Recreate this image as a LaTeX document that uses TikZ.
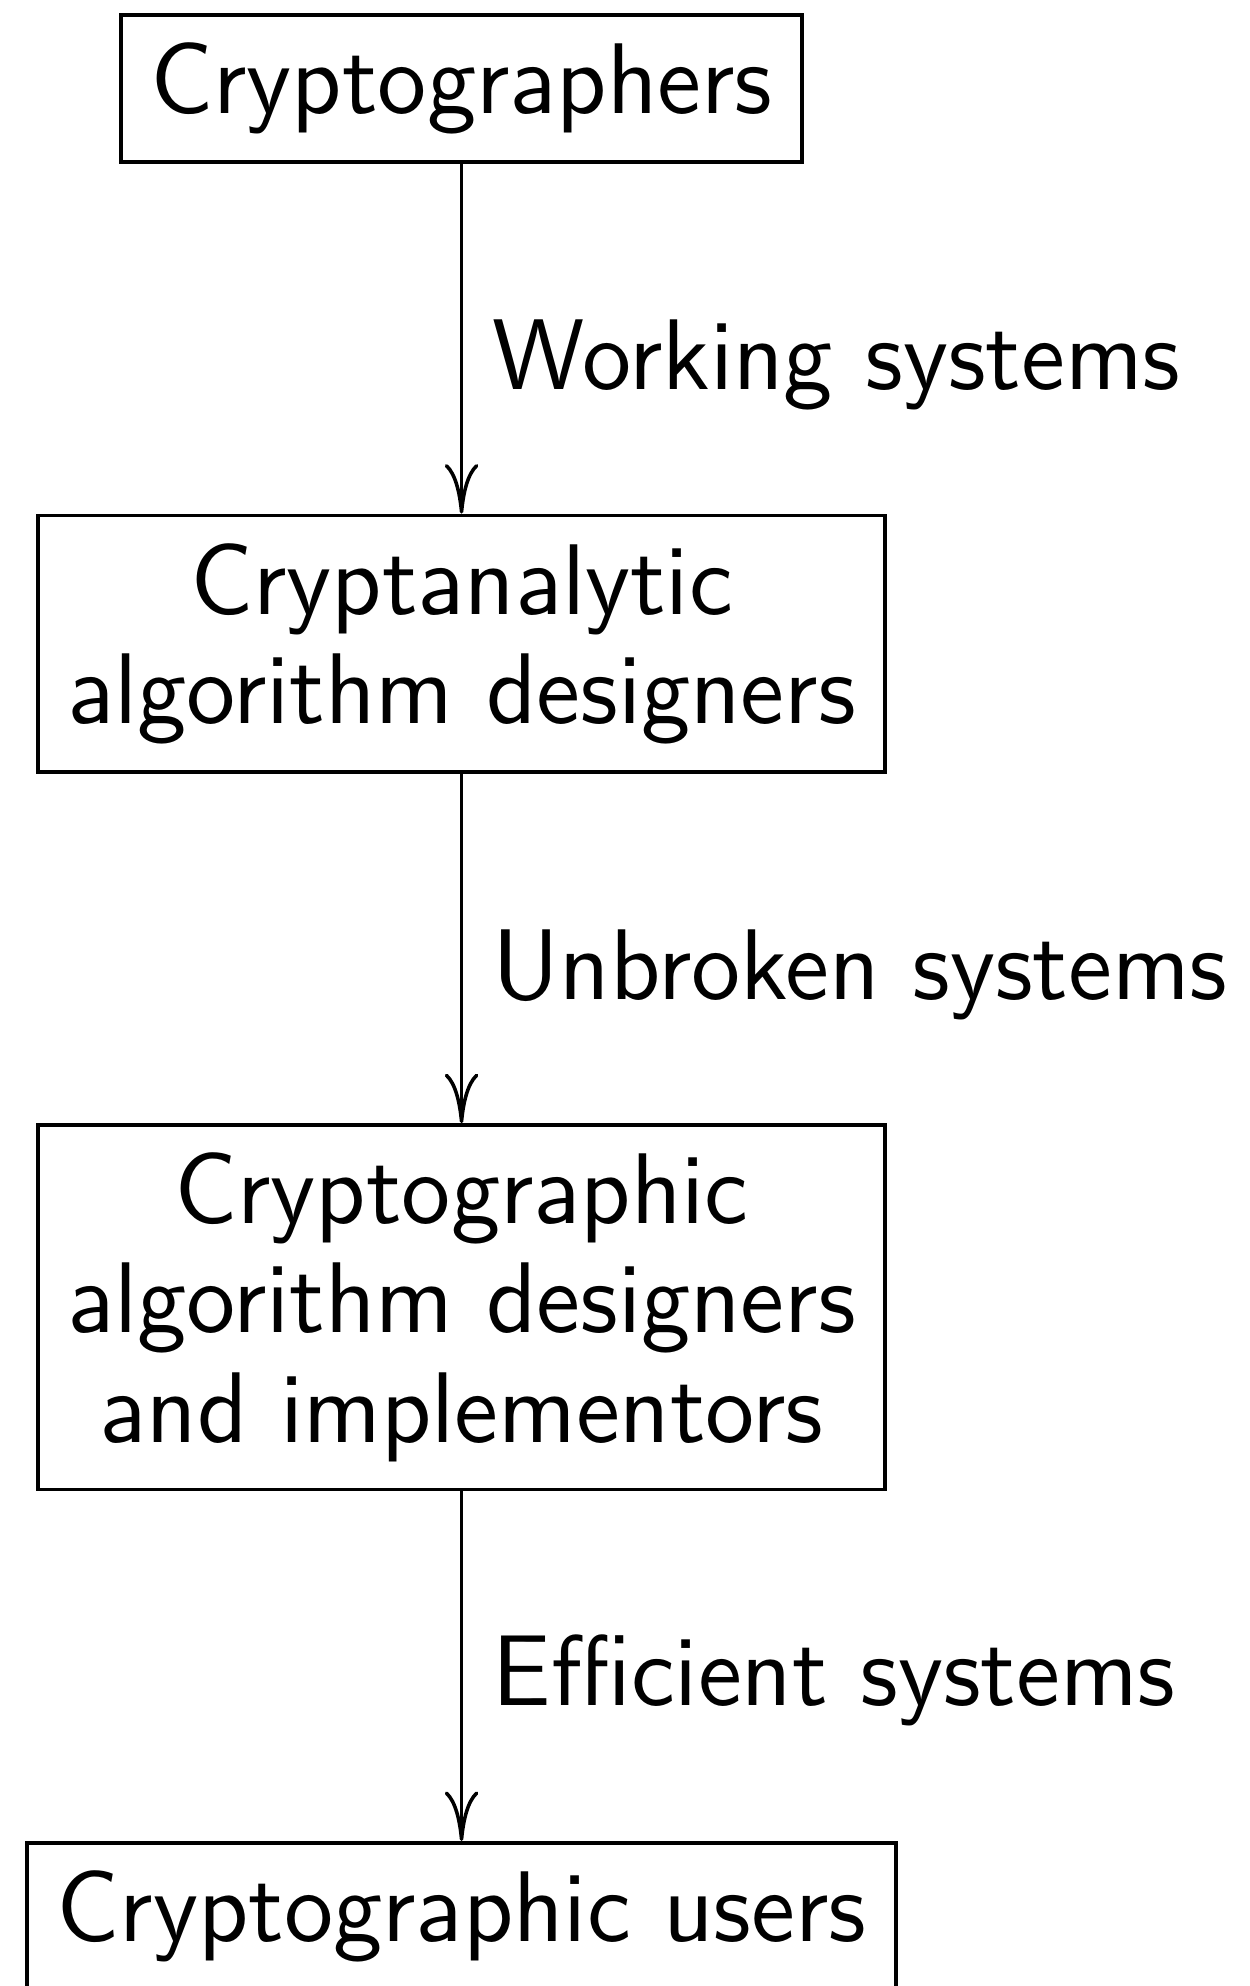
\documentclass[tikz,border=0pt]{standalone}
\usepackage{tikz}
\usetikzlibrary{positioning,arrows.meta}

\begin{document}
\begin{tikzpicture}[
      font=\sffamily\fontsize{11.35}{12.35}\selectfont,
      grp/.style  = {rectangle, draw, align=center, inner ysep=3.15pt},
      flow/.style = {-{To[length=5.6pt, width=3.8pt]}, draw},
      lbl/.style  = {right, midway},
    ]
    \useasboundingbox (0,0) rectangle (141.2pt,-224.4pt);
    %% ------------------------------------------------ the chain of groups
    \node[grp, anchor=north] (crypto) at (52.15pt,-1.5pt) {Cryptographers};
    \node[grp, below=39.5pt of crypto] (analysts) {Cryptanalytic\\algorithm designers};
    \node[grp, below=39.5pt of analysts] (designers) {Cryptographic\\algorithm designers\\and implementors};
    \node[grp, below=39.5pt of designers] (users) {Cryptographic users};

    %% ------------------------------------------------ what is handed down
    \draw[flow] (crypto) -- node[lbl, yshift=-3pt] {Working systems} (analysts);
    \draw[flow] (analysts) -- node[lbl, yshift=-3pt] {Unbroken systems} (designers);
    \draw[flow] (designers) -- node[lbl, yshift=-1.6pt] {Efficient systems} (users);
  \end{tikzpicture}
\end{document}
